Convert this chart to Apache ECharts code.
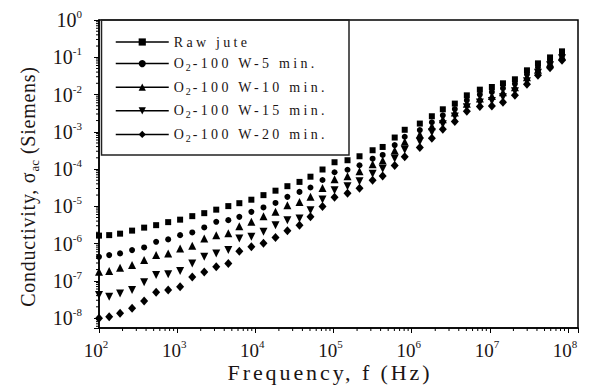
<!DOCTYPE html>
<html><head><meta charset="utf-8">
<script src="https://cdn.jsdelivr.net/npm/echarts@6/dist/echarts.min.js"></script>
<style>
html,body{margin:0;padding:0;background:#fff}
#c{width:595px;height:385px}
</style></head><body><div id="c"></div>
<script>
// Frequencies (Hz)
const freqHz = [100, 135, 186, 265, 378, 538, 767, 1090, 1560, 2220, 3160, 4510, 6240, 8890, 12700, 18100, 25700, 36700, 50700, 72300, 103000, 151000, 215000, 316000, 425000, 606000, 814000, 1270000, 1810000, 2500000, 3560000, 5070000, 7440000, 10600000, 14700000, 20900000, 29800000, 41200000, 58800000, 83700000];
// Conductivity (Siemens)
const rawJute = [1.63e-6, 1.68e-6, 1.84e-6, 2.22e-6, 2.67e-6, 3.11e-6, 3.75e-6, 4.37e-6, 5.43e-6, 6.53e-6, 8.11e-6, 1.01e-5, 1.21e-5, 1.50e-5, 1.99e-5, 2.62e-5, 3.46e-5, 4.51e-5, 6.22e-5, 9.7e-5, 1.52e-4, 1.72e-4, 2.20e-4, 3.19e-4, 3.91e-4, 7.0e-4, 1.13e-3, 1.66e-3, 2.61e-3, 4.01e-3, 5.70e-3, 9.5e-3, 1.35e-2, 1.59e-2, 2.0e-2, 2.56e-2, 4.46e-2, 6.86e-2, 9.9e-2, 1.44e-1];
const o2w5 = [4.40e-7, 4.89e-7, 5.43e-7, 6.65e-7, 7.86e-7, 1.11e-6, 1.29e-6, 1.68e-6, 1.98e-6, 2.70e-6, 3.82e-6, 4.24e-6, 5.20e-6, 7.08e-6, 9.29e-6, 1.23e-5, 1.79e-5, 2.43e-5, 3.19e-5, 5.07e-5, 8.2e-5, 9.57e-5, 1.26e-4, 1.89e-4, 2.39e-4, 4.40e-4, 7.34e-4, 1.11e-3, 1.80e-3, 2.77e-3, 4.06e-3, 6.99e-3, 9.94e-3, 1.17e-2, 1.47e-2, 1.94e-2, 3.48e-2, 5.36e-2, 8.0e-2, 1.20e-1];
const o2w10 = [1.74e-7, 1.82e-7, 2.23e-7, 2.64e-7, 3.59e-7, 4.89e-7, 5.43e-7, 7.39e-7, 8.67e-7, 1.37e-6, 1.68e-6, 1.90e-6, 2.92e-6, 3.82e-6, 5.43e-6, 7.08e-6, 1.07e-5, 1.31e-5, 1.79e-5, 3.10e-5, 5.33e-5, 6.41e-5, 8.73e-5, 1.35e-4, 1.70e-4, 3.13e-4, 5.39e-4, 8.41e-4, 1.40e-3, 2.16e-3, 3.27e-3, 5.63e-3, 7.76e-3, 9.12e-3, 1.15e-2, 1.56e-2, 2.89e-2, 4.59e-2, 6.86e-2, 1.06e-1];
const o2w15 = [4.14e-8, 3.72e-8, 4.59e-8, 5.64e-8, 9.06e-8, 1.42e-7, 1.49e-7, 1.82e-7, 2.92e-7, 4.40e-7, 5.43e-7, 6.65e-7, 1.37e-6, 1.51e-6, 2.06e-6, 3.11e-6, 4.24e-6, 4.71e-6, 7.85e-6, 1.52e-5, 2.70e-5, 3.46e-5, 4.71e-5, 7.48e-5, 1.01e-4, 1.91e-4, 3.29e-4, 5.46e-4, 9.70e-4, 1.59e-3, 2.56e-3, 4.54e-3, 6.07e-3, 6.70e-3, 8.41e-3, 1.22e-2, 2.26e-2, 3.82e-2, 6.07e-2, 9.35e-2];
const o2w20 = [9.8e-9, 1.08e-8, 1.34e-8, 1.82e-8, 2.86e-8, 4.89e-8, 5.64e-8, 6.90e-8, 1.26e-7, 1.71e-7, 2.37e-7, 2.92e-7, 6.25e-7, 8.17e-7, 1.01e-6, 1.46e-6, 2.19e-6, 3.11e-6, 5.20e-6, 9.88e-6, 1.75e-5, 2.24e-5, 3.06e-5, 5.01e-5, 6.53e-5, 1.24e-4, 2.14e-4, 3.77e-4, 6.70e-4, 1.17e-3, 1.88e-3, 3.55e-3, 4.74e-3, 4.92e-3, 6.18e-3, 9.52e-3, 1.88e-2, 3.27e-2, 5.20e-2, 8.26e-2];
const seriesNames = ['Raw jute', 'O2-100 W-5 min.', 'O2-100 W-10 min.', 'O2-100 W-15 min.', 'O2-100 W-20 min.'];
const seriesValues = [rawJute, o2w5, o2w10, o2w15, o2w20];
const xTitle = 'Frequency, f (Hz)';
const yTitleParts = ['Conductivity, σ', 'ac', '(Siemens)'];
const X_MIN = 100, X_MAX = 1.34e8, Y_MIN = 5.4e-9, Y_MAX = 1;
// minor tick positions (2..9 within each decade) for the log axes
const minorMults = [2, 3, 4, 5, 6, 7, 8, 9];
const xMinor = [], yMinor = [];
for (let e = 2; e <= 8; e++) minorMults.forEach(m => { const v = m * Math.pow(10, e); if (v < X_MAX) xMinor.push(v); });
for (let e = -9; e <= -1; e++) minorMults.forEach(m => { const v = m * Math.pow(10, e); if (v > Y_MIN && v < Y_MAX) yMinor.push(v); });

const FONT = '"Liberation Serif", "Times New Roman", serif';
const TXT = '#1a1414';
const YLS = 0.75;
function measure(t, size) {
  const ctx = document.createElement('canvas').getContext('2d');
  ctx.font = size + 'px ' + FONT;
  return ctx.measureText(t).width;
}
function expLabel(v) {
  const l = Math.log10(v), e = Math.round(l);
  if (Math.abs(l - e) > 1e-6) return '';
  return '{b|10}{s|' + (e < 0 ? '-' + (-e) : e) + '}';
}
const markers = [
  {symbol: 'rect', size: 6, rotate: 0},
  {symbol: 'circle', size: 6, rotate: 0},
  {symbol: 'triangle', size: 8, rotate: 0},
  {symbol: 'triangle', size: 8, rotate: 180},
  {symbol: 'diamond', size: [8, 9], rotate: 0}
];
const chart = echarts.init(document.getElementById('c'), null, {renderer: 'svg'});
const option = {
  animation: false,
  grid: {left: 99, right: 17, top: 20, bottom: 57, show: true, borderColor: '#000', borderWidth: 1.5,
         containLabel: false, outerBoundsMode: 'none'},
  xAxis: {
    type: 'log', logBase: 10, min: X_MIN, max: X_MAX,
    axisLine: {show: true, lineStyle: {color: '#000', width: 1.5}},
    axisTick: {show: true, inside: false, length: 5, lineStyle: {color: '#000', width: 1}},
    minorTick: {show: false},
    splitLine: {show: false},
    axisLabel: {formatter: expLabel, margin: 12, color: TXT, fontFamily: FONT,
      rich: {b: {fontSize: 19, lineHeight: 20, fontFamily: FONT, color: TXT},
             s: {fontSize: 11, lineHeight: 11, padding: [0, 6, 12, 0], fontFamily: FONT, color: TXT}}},
    name: xTitle, nameLocation: 'middle', nameGap: 33, nameMoveOverlap: false,
    nameTextStyle: {fontFamily: FONT, fontSize: 22, lineHeight: 22, color: TXT, padding: [0, 17, 0, 0]}
  },
  yAxis: {
    type: 'log', logBase: 10, min: Y_MIN, max: Y_MAX,
    axisLine: {show: true, lineStyle: {color: '#000', width: 1.5}},
    axisTick: {show: true, inside: false, length: 5, lineStyle: {color: '#000', width: 1}},
    minorTick: {show: false},
    splitLine: {show: false},
    axisLabel: {formatter: expLabel, margin: 17, color: TXT, fontFamily: FONT,
      rich: {b: {fontSize: 20, lineHeight: 21, fontFamily: FONT, color: TXT},
             s: {fontSize: 11, lineHeight: 11, padding: [0, 0, 12, 0], fontFamily: FONT, color: TXT}}},
    name: '{a|' + yTitleParts[0] + '}{c|' + yTitleParts[1] + '}{d|' + yTitleParts[2] + '}',
    nameLocation: 'middle', nameGap: 60, nameMoveOverlap: false,
    nameTextStyle: {fontFamily: FONT, fontSize: 20, color: TXT, padding: [0, 25, 0, 0],
      rich: {
        a: {fontSize: 20, lineHeight: 22, fontFamily: FONT, color: TXT, width: measure(yTitleParts[0], 20) + yTitleParts[0].length * YLS},
        c: {fontSize: 13, lineHeight: 13, padding: [12, 6, 0, 0], fontFamily: FONT, color: TXT},
        d: {fontSize: 20, lineHeight: 22, fontFamily: FONT, color: TXT, width: measure(yTitleParts[2], 20) + yTitleParts[2].length * YLS}
      }}
  },
  legend: {
    orient: 'vertical', left: 115, top: 35, itemWidth: 53, itemHeight: 9, itemGap: 5.6, padding: 0,
    selectedMode: false, data: seriesNames,
    formatter: n => n.indexOf('O2') === 0 ? '{b|O}{s|2}{b|' + n.slice(2) + '}' : '{b|' + n + '}',
    textStyle: {fontFamily: FONT, fontSize: 14, color: TXT,
      rich: {b: {fontSize: 14, lineHeight: 16, fontFamily: FONT, color: TXT},
             s: {fontSize: 10, lineHeight: 10, padding: [8, 2, 0, 2], fontFamily: FONT, color: TXT}}},
    lineStyle: {color: '#000', width: 1.5, opacity: 1},
    itemStyle: {color: '#000'}
  },
  graphic: [{type: 'rect', shape: {x: 101.5, y: 20, width: 247.5, height: 135}, style: {fill: 'none', stroke: '#222', lineWidth: 1.5}, z: 100, silent: true}],
  series: seriesNames.map((name, k) => ({
    name, type: 'line',
    data: freqHz.map((f, i) => [f, seriesValues[k][i]]),
    symbol: markers[k].symbol, symbolSize: markers[k].size, symbolRotate: markers[k].rotate,
    showAllSymbol: true, clip: false, silent: true,
    lineStyle: {opacity: 0, width: 1},
    itemStyle: {color: '#000'},
    emphasis: {disabled: true}
  })).concat([
    {type: 'custom', name: 'xMinorTicks', silent: true, clip: false, z: 5,
     data: xMinor.map(v => [v, Y_MIN]),
     renderItem: (p, api) => { const c = api.coord([api.value(0), Y_MIN]);
       return {type: 'line', shape: {x1: c[0], y1: c[1], x2: c[0], y2: c[1] + 3}, style: {stroke: '#000', lineWidth: 1}}; }},
    {type: 'custom', name: 'yMinorTicks', silent: true, clip: false, z: 5,
     data: yMinor.map(v => [X_MIN, v]),
     renderItem: (p, api) => { const c = api.coord([X_MIN, api.value(1)]);
       return {type: 'line', shape: {x1: c[0] - 3, y1: c[1], x2: c[0], y2: c[1]}, style: {stroke: '#000', lineWidth: 1}}; }}
  ])
};
chart.setOption(option);
function space() {
  document.querySelectorAll('#c text').forEach(t => {
    const fs = Math.round(parseFloat(getComputedStyle(t).fontSize));
    let ls = {14: 3.3, 10: 1, 22: 2.9, 20: 0}[fs] || 0;
    const s = t.textContent;
    if (s === yTitleParts[0] || s === yTitleParts[2]) ls = YLS;
    if (s === 'O') ls = 0;
    t.setAttribute('letter-spacing', ls);
  });
}
chart.on('finished', space);
space();
</script></body></html>
